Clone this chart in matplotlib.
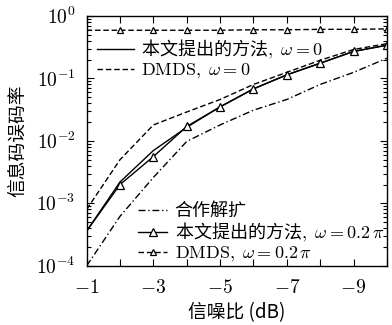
import matplotlib
matplotlib.use("Agg")
import matplotlib.pyplot as plt
from matplotlib.ticker import FixedLocator, LogLocator, NullFormatter

plt.rcParams['font.family'] = ['Noto Sans CJK SC', 'DejaVu Serif']
plt.rcParams['mathtext.fontset'] = 'cm'

snr = [-1, -2, -3, -4, -5, -6, -7, -8, -9, -10]
coop = [1.0e-4, 6.2e-4, 2.6e-3, 9.8e-3, 1.8e-2, 3.1e-2, 4.6e-2, 8.0e-2, 1.25e-1, 2.1e-1]
prop_w0 = [3.6e-4, 2.2e-3, 7.0e-3, 1.65e-2, 3.5e-2, 6.8e-2, 1.14e-1, 1.75e-1, 2.7e-1, 3.4e-1]
dmds_w0 = [8.0e-4, 5.0e-3, 1.8e-2, 2.9e-2, 4.6e-2, 8.0e-2, 1.25e-1, 1.95e-1, 2.9e-1, 3.6e-1]
prop_w02 = [3.6e-4, 2.0e-3, 5.6e-3, 1.7e-2, 3.5e-2, 6.8e-2, 1.14e-1, 1.75e-1, 2.7e-1, 3.4e-1]
dmds_w02 = [5.9e-1, 5.9e-1, 5.9e-1, 5.9e-1, 5.9e-1, 6.0e-1, 6.0e-1, 6.1e-1, 6.1e-1, 6.2e-1]

xticks = [-1, -3, -5, -7, -9]
xtick_labels = [r'$-1$', r'$-3$', r'$-5$', r'$-7$', r'$-9$']

fig = plt.figure(figsize=(3.92, 3.25), dpi=100)
ax = fig.add_axes([0.221, 0.182, 0.766, 0.769])

lw = 1.0
l_coop, = ax.plot(snr, coop, color='black', lw=lw, linestyle=(0, (5, 2, 1, 2)))
l_p0, = ax.plot(snr, prop_w0, color='black', lw=lw, linestyle='-')
l_d0, = ax.plot(snr, dmds_w0, color='black', lw=lw, linestyle=(0, (4, 2)))
l_p2, = ax.plot(snr, prop_w02, color='black', lw=lw, linestyle='-', marker='^',
                markersize=6, markerfacecolor='white', markeredgewidth=0.9, markevery=list(range(1, 10)))
l_d2, = ax.plot(snr, dmds_w02, color='black', lw=lw, linestyle=(0, (4, 2)), marker='^',
                markersize=5, markerfacecolor='white', markeredgewidth=0.9, markevery=list(range(1, 10)))

ax.set_yscale('log')
ax.set_xlim(-1, -10)
ax.set_ylim(1e-4, 1)
ax.xaxis.set_major_locator(FixedLocator(xticks))
ax.set_xticklabels(xtick_labels)
ax.xaxis.set_minor_locator(FixedLocator([-2, -4, -6, -8, -10]))
ax.set_yticks([1e-4, 1e-3, 1e-2, 1e-1, 1])
ax.set_yticklabels([r'$10^{-4}$', r'$10^{-3}$', r'$10^{-2}$', r'$10^{-1}$', r'$10^{0}$'])
ax.yaxis.set_minor_locator(LogLocator(base=10, subs=range(2, 10), numticks=20))
ax.yaxis.set_minor_formatter(NullFormatter())
ax.tick_params(which='both', direction='in', top=True, right=True, labelsize=14, width=0.8)
ax.tick_params(which='major', length=5)
ax.tick_params(which='minor', length=3)
ax.tick_params(axis='x', which='minor', length=5)
ax.tick_params(axis='y', which='major', pad=8)
ax.tick_params(axis='x', which='major', pad=8)
for s in ax.spines.values():
    s.set_linewidth(1.0)

ax.set_xlabel('信噪比 (dB)', fontsize=13.5, labelpad=3)
ax.set_ylabel('信息码误码率', fontsize=13.5, labelpad=6)

leg1 = ax.legend([l_p0, l_d0],
                 ['本文提出的方法$,\\ \\omega=0$', r'$\mathrm{DMDS},\ \omega=0$'],
                 loc='upper left', bbox_to_anchor=(0.0, 0.955), frameon=False, fontsize=13,
                 handlelength=2.0, handletextpad=0.4, labelspacing=0.0, borderaxespad=0.2)
ax.add_artist(leg1)
ax.legend([l_coop, l_p2, l_d2],
          ['合作解扩', '本文提出的方法$,\\ \\omega=0.2\\,\\pi$', r'$\mathrm{DMDS},\ \omega=0.2\,\pi$'],
          loc='lower right', bbox_to_anchor=(1.02, -0.03), frameon=False, fontsize=13,
          handlelength=1.6, handletextpad=0.4, labelspacing=0.05, borderaxespad=0.1)

fig.savefig('out.png', dpi=100)
